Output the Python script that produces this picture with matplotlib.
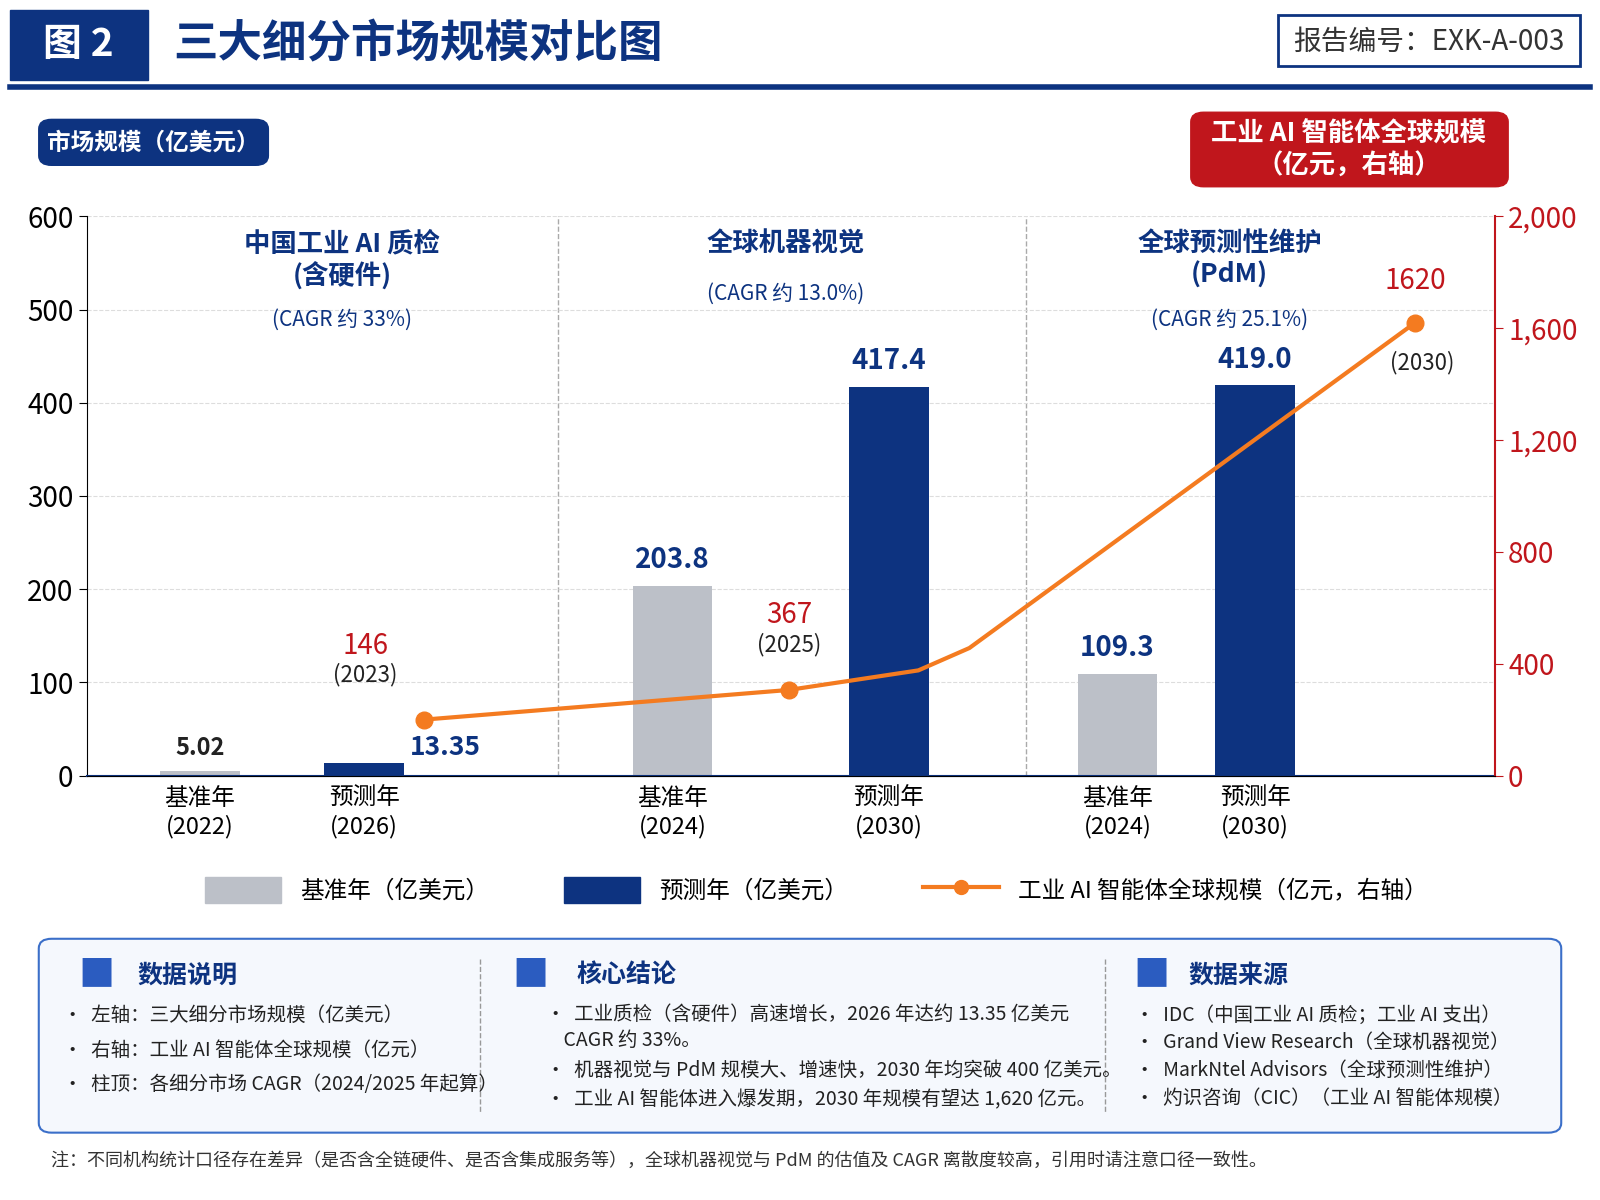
import matplotlib.pyplot as plt
from matplotlib.patches import FancyBboxPatch, Rectangle
from matplotlib.lines import Line2D

plt.rcParams['font.family'] = ['Noto Sans CJK SC', 'DejaVu Sans']

# data
bar_pos = [1.96, 3.57, 6.59, 8.71, 10.95, 12.30]
bar_vals = [5.02, 13.35, 203.8, 417.4, 109.3, 419.0]
bar_kind = ['base', 'fore', 'base', 'fore', 'base', 'fore']
bar_labels = ['5.02', '13.35', '203.8', '417.4', '109.3', '419.0']
tick_labels = ['基准年\n(2022)', '预测年\n(2026)', '基准年\n(2024)', '预测年\n(2030)', '基准年\n(2024)', '预测年\n(2030)']
line_x = [4.16, 7.73, 9.00, 9.50, 13.87]
line_y = [200, 306, 376, 456, 1620]
marker_idx = [0, 1, 4]
line_labels = [('146', '(2023)'), ('367', '(2025)'), ('1620', '(2030)')]
groups = [('中国工业 AI 质检\n(含硬件)', '(CAGR 约 33%)'),
          ('全球机器视觉', '(CAGR 约 13.0%)'),
          ('全球预测性维护\n(PdM)', '(CAGR 约 25.1%)')]

NAVY = '#0d3380'
GRAY = '#bcc0c8'
ORANGE = '#f47b20'
RED = '#c0161c'
W, H = 1568, 1176

def fx(px):
    return px / W

def fy(py):
    return 1 - py / H

fig = plt.figure(figsize=(16, 12), dpi=100)
ax = fig.add_axes([fx(85), fy(760), fx(1465) - fx(85), fy(212) - fy(760)])
ax.set_xlim(0.85, 14.65)
ax.set_ylim(0, 600)

for x, v, k in zip(bar_pos, bar_vals, bar_kind):
    c = GRAY if k == 'base' else NAVY
    ax.bar(x, v, width=0.78, color=c, zorder=2)
for i, (x, v, lab) in enumerate(zip(bar_pos, bar_vals, bar_labels)):
    if i == 1:
        ax.text(x + 0.45, v + 2, lab, ha='left', va='bottom', fontsize=19, color=NAVY, fontweight='bold')
    elif i == 0:
        ax.text(x, v + 12, lab, ha='center', va='bottom', fontsize=17, color='#222', fontweight='bold')
    else:
        ax.text(x, v + 12, lab, ha='center', va='bottom', fontsize=20, color=NAVY, fontweight='bold')

ax.set_yticks(range(0, 601, 100))
ax.tick_params(axis='y', labelsize=20, length=6)
ax.set_xticks(bar_pos)
ax.set_xticklabels(tick_labels, fontsize=17, linespacing=1.3)
ax.tick_params(axis='x', length=0, pad=8)
ax.grid(axis='y', linestyle='--', color='#dddddd', zorder=0)
for s in ['top', 'right']:
    ax.spines[s].set_visible(False)
ax.spines['bottom'].set_color(NAVY)
ax.spines['bottom'].set_linewidth(1.5)
for sx in [5.47, 10.05]:
    ax.axvline(sx, color='#aaaaaa', linestyle='--', linewidth=1, zorder=1)

gx = [3.35, 7.70, 12.05]
for (t, c), x, n in zip(groups, gx, [2, 1, 2]):
    ax.text(x, 585, t, ha='center', va='top', fontsize=19, color=NAVY, fontweight='bold', linespacing=1.2)
    ax.text(x, 585 - (62 if n == 2 else 34) - 22, c, ha='center', va='top', fontsize=15, color=NAVY)

ax2 = ax.twinx()
ax2.set_ylim(0, 2000)
ax2.set_yticks(range(0, 2001, 400))
ax2.set_yticklabels(['0', '400', '800', '1,200', '1,600', '2,000'])
ax2.tick_params(axis='y', labelsize=20, colors=RED, length=6)
ax2.spines['right'].set_color(RED)
ax2.spines['right'].set_linewidth(1.5)
for s in ['top', 'left']:
    ax2.spines[s].set_visible(False)
ax2.plot(line_x, line_y, color=ORANGE, linewidth=3, zorder=3)
ax2.plot([line_x[i] for i in marker_idx], [line_y[i] for i in marker_idx], 'o', color=ORANGE, markersize=12, zorder=4)
offs = [(-0.58, 210, 120), (0.0, 215, 120), (0.0, 95, -75)]
for i, (v, yr), (dx, d1, d2) in zip(marker_idx, line_labels, offs):
    ax2.text(line_x[i] + dx, line_y[i] + d1, v, ha='center', va='bottom', fontsize=20, color=RED)
    ax2.text(line_x[i] + dx + (0.07 if i == 4 else 0), line_y[i] + d2 - (25 if i == 4 else 0), yr,
             ha='center', va='bottom' if i != 4 else 'top', fontsize=16, color='#222')

# header
fig.patches.append(Rectangle((fx(10), fy(78)), fx(135), fy(10) - fy(78), transform=fig.transFigure, color=NAVY))
fig.text(fx(77), fy(44), '图 2', ha='center', va='center', fontsize=28, color='white', fontweight='bold')
fig.text(fx(170), fy(44), '三大细分市场规模对比图', ha='left', va='center', fontsize=32, color=NAVY, fontweight='bold')
fig.patches.append(Rectangle((fx(1252), fy(65)), fx(296), fy(15) - fy(65), transform=fig.transFigure,
                             fill=False, edgecolor=NAVY, linewidth=2))
fig.text(fx(1400), fy(41), '报告编号：EXK-A-003', ha='center', va='center', fontsize=20, color='#333')
fig.add_artist(Line2D([fx(10), fx(1558)], [fy(85), fy(85)], color=NAVY, linewidth=4))

fig.patches.append(FancyBboxPatch((fx(38), fy(162)), fx(225), fy(117) - fy(162), boxstyle='round,pad=0,rounding_size=0.008',
                                  transform=fig.transFigure, color=NAVY))
fig.text(fx(150), fy(140), '市场规模（亿美元）', ha='center', va='center', fontsize=17, color='white', fontweight='bold')
fig.patches.append(FancyBboxPatch((fx(1167), fy(183)), fx(311), fy(110) - fy(183), boxstyle='round,pad=0,rounding_size=0.008',
                                  transform=fig.transFigure, color=RED))
fig.text(fx(1322), fy(147), '工业 AI 智能体全球规模\n（亿元，右轴）', ha='center', va='center', fontsize=19,
         color='white', fontweight='bold', linespacing=1.2)

# legend
handles = [Rectangle((0, 0), 1, 1, color=GRAY), Rectangle((0, 0), 1, 1, color=NAVY),
           Line2D([], [], color=ORANGE, linewidth=3, marker='o', markersize=10)]
fig.legend(handles, ['基准年（亿美元）', '预测年（亿美元）', '工业 AI 智能体全球规模（亿元，右轴）'],
           loc='center', bbox_to_anchor=(fx(800), fy(872)), ncol=3, frameon=False, fontsize=17,
           handlelength=3.2, handleheight=1.3, columnspacing=3.2)

# notes panel
fig.patches.append(FancyBboxPatch((fx(38), fy(1110)), fx(1492), fy(920) - fy(1110), boxstyle='round,pad=0,rounding_size=0.008',
                                  transform=fig.transFigure, facecolor='#f5f8fd', edgecolor='#3b6fc9', linewidth=1.5))
for dx in [470, 1083]:
    fig.add_artist(Line2D([fx(dx), fx(dx)], [fy(940), fy(1090)], color='#999', linestyle='--', linewidth=1))
sections = [
    (75, 135, '数据说明', ['•  左轴：三大细分市场规模（亿美元）', '•  右轴：工业 AI 智能体全球规模（亿元）',
                       '•  柱顶：各细分市场 CAGR（2024/2025 年起算）'], 62, 995, 34),
    (500, 565, '核心结论', ['•  工业质检（含硬件）高速增长，2026 年达约 13.35 亿美元\n    CAGR 约 33%。',
                        '•  机器视觉与 PdM 规模大、增速快，2030 年均突破 400 亿美元。',
                        '•  工业 AI 智能体进入爆发期，2030 年规模有望达 1,620 亿元。'], 535, 995, 0),
    (1108, 1165, '数据来源', ['•  IDC（中国工业 AI 质检；工业 AI 支出）', '•  Grand View Research（全球机器视觉）',
                          '•  MarkNtel Advisors（全球预测性维护）', '•  灼识咨询（CIC）（工业 AI 智能体规模）'], 1112, 995, 27),
]
for ix, tx, title, items, bx, by, step in sections:
    fig.text(fx(tx), fy(956), title, ha='left', va='center', fontsize=18, color=NAVY, fontweight='bold')
    fig.text(fx(ix + 20), fy(956), '■', ha='center', va='center', fontsize=26, color='#2b5cc0')
    if step:
        for k, it in enumerate(items):
            fig.text(fx(bx), fy(by + k * step), it, ha='left', va='center', fontsize=14, color='#222')
    else:
        ys = [1007, 1049, 1078]
        for it, yy in zip(items, ys):
            fig.text(fx(bx), fy(yy), it, ha='left', va='center', fontsize=14, color='#222', linespacing=1.3)

fig.text(fx(50), fy(1138), '注：不同机构统计口径存在差异（是否含全链硬件、是否含集成服务等），全球机器视觉与 PdM 的估值及 CAGR 离散度较高，引用时请注意口径一致性。',
         ha='left', va='center', fontsize=13, color='#333')

fig.savefig('out.png', dpi=100)
